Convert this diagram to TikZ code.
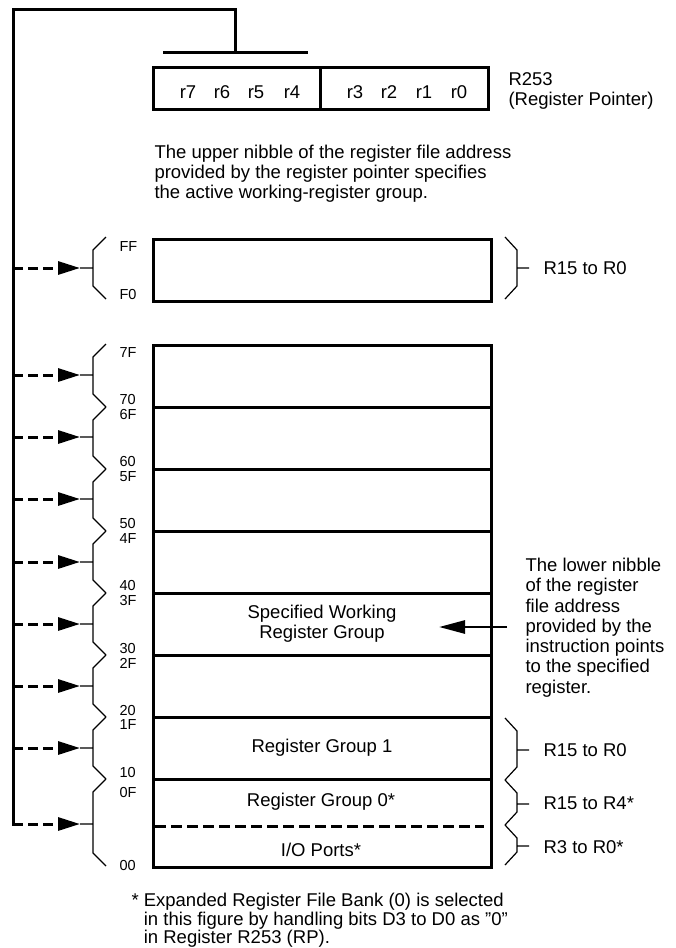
\documentclass[tikz,border=0pt]{standalone}
\usepackage{fontspec}
\setmainfont{Liberation Sans}
\usetikzlibrary{arrows.meta,positioning}
\begin{document}
\begin{tikzpicture}[x=1pt, y=-1pt, line width=3pt, line join=miter,
	font=\fontsize{18.5}{19.8}\selectfont,
	row/.style={rectangle, draw, minimum width=338pt, minimum height=62pt, inner sep=0pt, outer sep=0pt},
	nib/.style={rectangle, draw, minimum height=42pt, inner sep=0pt, outer sep=0pt},
	txt/.style={inner sep=0pt},
	hex/.style={inner sep=0pt, anchor=west, font=\fontsize{14.5}{15}\selectfont},
	brace/.style={line width=1.2pt},
	bus/.style={line width=3pt, line cap=rect},
	feed/.style={dash pattern=on 10pt off 5pt, -{Triangle[length=22pt,width=13pt]}},
	pointer/.style={line width=2.7pt, -{Triangle[length=26pt,width=13pt]}}]
	\useasboundingbox (0,0) rectangle (676,948);

	\node [nib, minimum width=167pt] (hi) at (236.5,88) {};
	\node [nib, minimum width=168pt] (lo) [right=0pt of hi] {};
	\foreach \n/\x in {7/188,6/222,5/256,4/292,3/355,2/389,1/424,0/459}
		\node [txt] (b\n) at (\x,92) {r\n};
	\node [txt, anchor=north west, align=left] (rp) at (507,71) {R253\\(Register Pointer)};
	\node [txt, anchor=north west, align=left] (upper) at (153,143.5) {The upper nibble of the register file address\\provided by the register pointer specifies\\the active working-register group.};

	\coordinate (barl) at (164,52);
	\coordinate (barr) at (306,52);
	\coordinate (barm) at (235,52);
	\coordinate (corner) at (13,9);
	\draw [bus] (barl) -- (barr);
	\draw [bus] (barm) |- (corner) -- (13,824);

	\node [row] (gf) at (322,270) {};
	\node [row] (g7) at (322,376) {};
	\node [row] (g6) [below=0pt of g7] {};
	\node [row] (g5) [below=0pt of g6] {};
	\node [row] (g4) [below=0pt of g5] {};
	\node [row, align=center] (g3) [below=0pt of g4] {Specified Working\\Register Group};
	\node [row] (g2) [below=0pt of g3] {};
	\node [row] (g1) [below=0pt of g2] {Register Group 1};
	\node [row, minimum height=88pt] (g0) [below=0pt of g1] {};
	\node [txt] (grp0) at (321,802) {Register Group 0*};
	\node [txt] (io) at (321,850) {I/O Ports*};
	\draw [dash pattern=on 11pt off 5pt] (155,826) -- (484,826);

	\foreach \t/\b/\m [count=\i] in {237/299/268, 344/407/375, 407/469/437, 469/531/499, 531/593/562, 593/655/624, 655/717/686, 717/779/748, 779/866/824} {
		\draw [brace] (106,\t) -- (93,\t+13) -- (93,\b-13) -- (106,\b) (93,\m) -- (80,\m);
		\path (13,\m) coordinate (s\i) (80,\m) coordinate (t\i);
		\draw [feed] (s\i) -- (t\i);
	}
	\foreach \y/\h in {247/FF,295/F0,353/7F,400/70,415/6F,462/60,477/5F,524/50,539/4F,586/40,601/3F,648/30,663/2F,710/20,725/1F,772/10,792/0F,865/00}
		\node [hex] at (118,\y) {\h};

	\foreach \t/\b/\m in {237/299/268, 718/780/750, 780/825/804, 825/865/846}
		\draw [brace] (505,\t) -- (517,\t+13) -- (517,\b-13) -- (505,\b) (517,\m) -- (529,\m);
	\node [txt, anchor=west] (rf) at (542,268) {R15 to R0};
	\node [txt, anchor=west] (r1) at (542,750) {R15 to R0};
	\node [txt, anchor=west] (r0h) at (542,803) {R15 to R4*};
	\node [txt, anchor=west] (r0l) at (542,847) {R3 to R0*};

	\node [txt, anchor=north west, align=left, font=\fontsize{18.5}{20.3}\selectfont] (lower) at (524,556.5) {The lower nibble\\of the register\\file address\\provided by the\\instruction points\\to the specified\\register.};
	\coordinate (lnib) at (507,627);
	\coordinate (sel) at (439,627);
	\draw [pointer] (lnib) -- (sel);

	\node [txt, anchor=north west, align=left, font=\fontsize{18.5}{18.4}\selectfont] (note) at (130,892) {*~Expanded Register File Bank (0) is selected\\\hphantom{*~}in this figure by handling bits D3 to D0 as \symbol{34}0\symbol{34}\\\hphantom{*~}in Register R253 (RP).};
\end{tikzpicture}
\end{document}
